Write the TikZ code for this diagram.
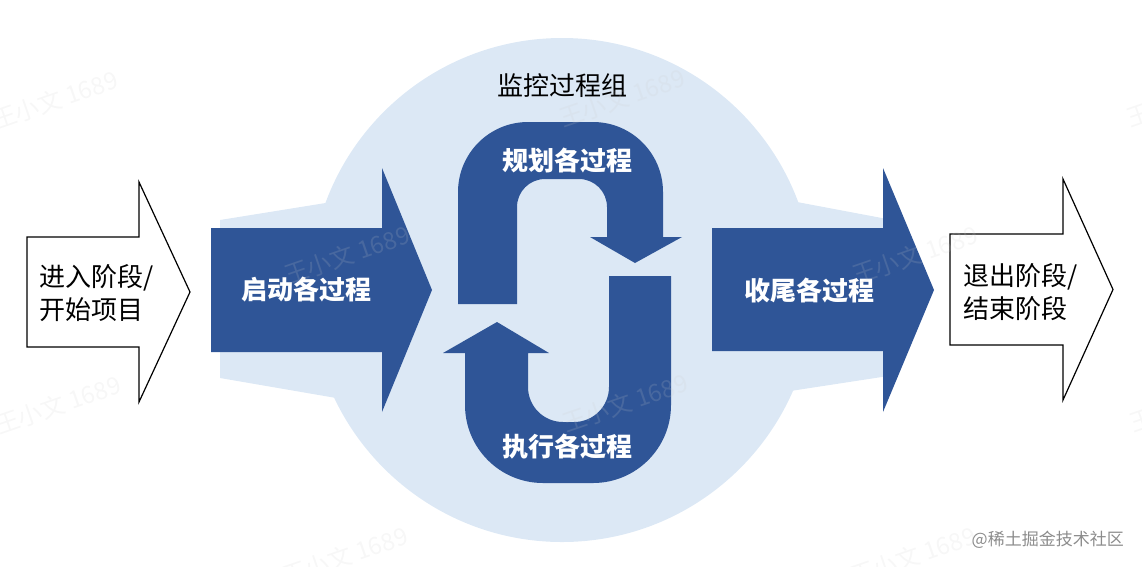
\documentclass[tikz,border=0pt]{standalone}
\usepackage{fontspec}
\setmainfont{Noto Sans CJK SC}
\definecolor{dkblue}{HTML}{2F5597}
\definecolor{ltblue}{HTML}{DCE8F5}
\definecolor{credit}{HTML}{8C8C8C}
\tikzset{
  wtxt/.style={text=white, font=\fontsize{26}{33}\selectfont\bfseries, inner sep=0pt},
  btxt/.style={text=black, font=\fontsize{26}{33}\selectfont, inner sep=0pt},
  wmark/.style={text=gray!40, opacity=0.16, rotate=19, font=\fontsize{24}{28}\selectfont, inner sep=0pt},
  whitearrow/.style={draw=black, line width=1.2pt, fill=white, line join=miter},
  bluearrow/.style={fill=dkblue},
  bgshape/.style={fill=ltblue}
}
\begin{document}
\begin{tikzpicture}[x=1pt,y=-1pt]
\useasboundingbox (0,0) rectangle (1142,566);
\clip (0,0) rectangle (1142,566);
% light background: circle and band
\fill[bgshape] (562,290) circle[radius=252pt];
\fill[bgshape] (220,220) -- (400,191) -- (720,187.5) -- (885,218.6) -- (885,376.5) -- (720,401.8) -- (400,409) -- (220,378) -- cycle;
% white arrows
\draw[whitearrow] (27,237) -- (139,237) -- (139,182) -- (190,292) -- (139,402) -- (139,347) -- (27,347) -- cycle;
\draw[whitearrow] (950,234) -- (1063,234) -- (1063,179) -- (1113,289.5) -- (1063,400) -- (1063,345) -- (950,345) -- cycle;
% blue arrows
\fill[bluearrow] (211,228) -- (382,228) -- (382,168) -- (432,290) -- (382,412) -- (382,352) -- (211,352) -- cycle;
\fill[bluearrow] (712,228) -- (883,228) -- (883,168) -- (934,290) -- (883,412) -- (883,351) -- (712,351) -- cycle;
% upper loop (arrow pointing down)
\fill[bluearrow] (458,304) [rounded corners=70pt] -- (458,122) -- (663,122) [sharp corners] -- (663,237) -- (682,237) -- (635,263) -- (590,237) -- (607,237) [rounded corners=28pt] -- (607,179) -- (517,179) [sharp corners] -- (517,304) -- cycle;
% lower loop (arrow pointing up)
\fill[bluearrow] (671,276) [rounded corners=78pt] -- (671,483) -- (465,483) [sharp corners] -- (465,353) -- (443,353) -- (497,322) -- (549,353) -- (528,353) [rounded corners=35pt] -- (528,422) -- (609,422) [sharp corners] -- (609,276) -- cycle;
% texts
\node[btxt] (mon) at (562,86) {监控过程组};
\node[wtxt] (start) at (306,290) {启动各过程};
\node[wtxt] (close) at (809,291) {收尾各过程};
\node[wtxt] (plan) at (567,160) {规划各过程};
\node[wtxt] (exec) at (567,447) {执行各过程};
\node[btxt, align=left, anchor=west] (enter) at (39,293) {进入阶段/\\开始项目};
\node[btxt, align=left, anchor=west] (exit) at (963,292) {退出阶段/\\结束阶段};
\node[anchor=east, text=credit, font=\fontsize{17}{20}\selectfont, inner sep=0pt] (credit) at (1124,540) {@稀土掘金技术社区};
% watermarks
\node[wmark] (wm1) at (55,100) {王小文 1689};
\node[wmark] (wm2) at (622,98) {王小文 1689};
\node[wmark] (wm3) at (1189,98) {王小文 1689};
\node[wmark] (wm4) at (347,255) {王小文 1689};
\node[wmark] (wm5) at (915,255) {王小文 1689};
\node[wmark] (wm6) at (58,405) {王小文 1689};
\node[wmark] (wm7) at (625,403) {王小文 1689};
\node[wmark] (wm8) at (1192,403) {王小文 1689};
\node[wmark] (wm9) at (345,556) {王小文 1689};
\node[wmark] (wm10) at (913,556) {王小文 1689};
\end{tikzpicture}
\end{document}
